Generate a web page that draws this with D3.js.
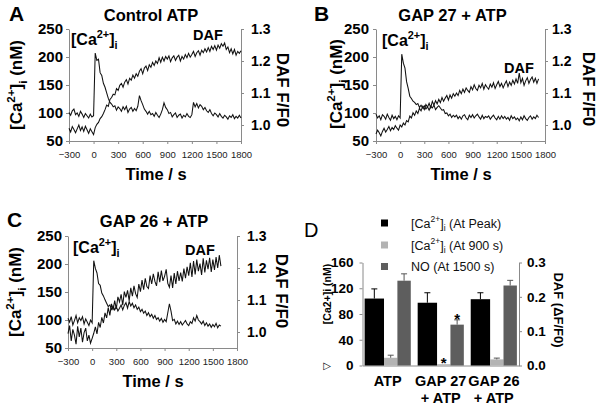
<!DOCTYPE html>
<html><head><meta charset="utf-8">
<script src="https://cdn.jsdelivr.net/npm/d3@7/dist/d3.min.js"></script>
<style>body{margin:0;background:#fff} svg{display:block}</style>
</head><body>
<svg id="c" width="600" height="406"></svg>
<script>
// ---------- DATA ----------
const startSec = -300;   // first sample time (s)
const stepSec = 20;      // sampling interval (s)
const xTicks = [-300, 0, 300, 600, 900, 1200, 1500, 1800];
const caTicks = [50, 100, 150, 200, 250];
const dafTicks = [1.0, 1.1, 1.2, 1.3];

// Panel A: Control ATP
const caA = [101,96,104,107,97,100,94,103,98,92,
  99,95,91,98,93,95,207,194,196,172,
  167,153,146,136,126,119,116,111,113,105,
  111,108,103,111,106,112,101,107,110,103,
  108,104,112,131,122,115,107,103,98,103,
  97,99,94,101,96,92,98,106,118,110,
  106,99,101,93,97,100,92,96,98,91,
  96,93,99,94,92,97,119,111,117,109,
  115,112,106,110,104,101,106,99,95,100,
  97,93,99,94,91,96,93,89,95,92,
  97,90,94,91,96,91];
const dafA = [0.990,0.978,0.995,0.986,0.976,0.988,1.000,0.983,0.994,0.980,
  0.996,0.985,0.974,0.988,0.979,0.970,0.992,1.002,1.008,1.020,
  1.026,1.036,1.048,1.062,1.058,1.080,1.086,1.096,1.094,1.114,
  1.108,1.124,1.130,1.118,1.134,1.142,1.128,1.146,1.140,1.156,
  1.146,1.160,1.152,1.168,1.176,1.160,1.178,1.184,1.170,1.188,
  1.180,1.196,1.186,1.200,1.192,1.210,1.196,1.212,1.200,1.214,
  1.206,1.216,1.198,1.210,1.216,1.202,1.212,1.218,1.200,1.214,
  1.206,1.220,1.210,1.224,1.212,1.220,1.230,1.214,1.226,1.232,
  1.218,1.234,1.226,1.238,1.228,1.242,1.230,1.246,1.236,1.248,
  1.234,1.250,1.240,1.254,1.246,1.256,1.236,1.244,1.226,1.238,
  1.222,1.236,1.218,1.230,1.224,1.232];

// Panel B: GAP 27 + ATP
const caB = [98,91,95,88,97,94,89,98,92,87,
  96,90,94,88,95,91,205,189,180,156,
  144,130,126,121,119,115,117,110,114,109,
  113,107,111,105,112,109,114,106,110,113,
  109,105,106,99,100,95,98,92,96,93,
  96,90,94,89,95,97,91,88,96,92,
  97,91,95,98,93,89,96,90,94,92,
  95,89,93,96,91,88,94,89,95,90,
  94,89,92,87,95,90,93,88,91,86,
  93,88,95,90,87,92,95,89,93,90,
  96,92];
const dafB = [0.972,0.984,0.976,0.966,0.980,0.990,0.978,0.986,0.995,0.982,
  0.992,0.986,0.998,0.990,0.984,1.000,0.994,1.006,1.000,1.014,
  1.010,1.028,1.022,1.038,1.030,1.044,1.036,1.052,1.044,1.058,
  1.048,1.064,1.056,1.068,1.054,1.074,1.062,1.076,1.066,1.080,
  1.070,1.086,1.074,1.084,1.092,1.078,1.094,1.084,1.098,1.090,
  1.100,1.092,1.108,1.098,1.112,1.102,1.116,1.108,1.102,1.120,
  1.110,1.126,1.114,1.108,1.124,1.116,1.130,1.112,1.126,1.118,
  1.112,1.128,1.118,1.132,1.114,1.126,1.136,1.120,1.130,1.116,
  1.128,1.138,1.120,1.134,1.124,1.140,1.128,1.144,1.130,1.162,
  1.132,1.146,1.124,1.138,1.148,1.130,1.142,1.150,1.134,1.146,
  1.130,1.144];

// Panel C: GAP 26 + ATP
const caC = [103,96,106,91,99,108,95,104,99,106,
  93,102,96,90,100,95,206,192,184,165,
  162,148,143,136,130,124,127,119,125,118,
  124,116,121,127,118,126,131,121,133,125,
  130,122,127,119,123,115,119,112,116,108,
  113,106,110,103,108,101,104,98,103,96,
  101,97,113,129,116,99,101,93,98,92,
  97,91,95,99,93,90,97,94,104,98,
  108,100,97,93,98,90,95,89,93,87,
  92,88,94,86,91,89];
const dafC = [0.995,1.020,0.972,1.008,0.990,0.962,1.018,0.985,1.012,0.968,
  0.998,1.012,0.972,0.990,0.965,0.980,0.996,1.016,0.994,1.030,
  1.014,1.046,1.028,1.060,1.044,1.076,1.052,1.088,1.068,1.098,
  1.072,1.110,1.094,1.118,1.084,1.126,1.108,1.130,1.098,1.138,
  1.112,1.144,1.120,1.108,1.150,1.126,1.162,1.132,1.168,1.142,
  1.136,1.176,1.150,1.182,1.158,1.144,1.188,1.156,1.192,1.160,
  1.174,1.196,1.152,1.140,1.176,1.138,1.184,1.150,1.190,1.160,
  1.186,1.158,1.198,1.168,1.204,1.176,1.216,1.172,1.222,1.180,
  1.226,1.190,1.214,1.178,1.230,1.186,1.224,1.196,1.232,1.188,
  1.226,1.194,1.234,1.200,1.240,1.206];

// Panel D: bar summary
const groups = ["ATP", "GAP 27 + ATP", "GAP 26 + ATP"];
const groupLines = [["ATP"], ["GAP 27", "+ ATP"], ["GAP 26", "+ ATP"]];
const caPeak = [104, 97.5, 103];
const caPeakErr = [15, 15.5, 10];
const ca900 = [12, 2, 9.5];
const ca900Err = [4, 0, 2];
const no1500 = [0.247, 0.119, 0.233];
const no1500Err = [0.020, 0.014, 0.015];
const sigCa900 = [false, true, false];
const sigNO = [false, true, false];
const barTicksL = [0, 40, 80, 120, 160];
const barTicksR = [0.0, 0.1, 0.2, 0.3];
const legendLabels = ["(At Peak)", "(At 900 s)", "NO (At 1500 s)"];

// ---------- DRAWING ----------
const svg = d3.select("#c");
const AR = "'Liberation Sans', Arial, sans-serif";
const AX = "#8a8a8a";

function caText(sel, fs, tail) {
  sel.append("tspan").text("[Ca");
  sel.append("tspan").attr("font-size", fs * 0.68).attr("dy", -fs * 0.42).text("2+");
  sel.append("tspan").attr("dy", fs * 0.42).text("]");
  sel.append("tspan").attr("font-size", fs * 0.68).attr("dy", fs * 0.28).text("i");
  if (tail) sel.append("tspan").attr("dy", -fs * 0.28).text(tail);
}

function styleAxis(g, size, weight) {
  g.select(".domain").attr("stroke", AX);
  g.selectAll(".tick line").attr("stroke", AX);
  g.selectAll(".tick text").attr("fill", "#000")
    .style("font-family", AR).style("font-size", size + "px").style("font-weight", weight);
}

function tracePanel(c) {
  const g = svg.append("g");
  const x = d3.scaleLinear().domain([-300, 1800]).range([c.x0, c.x1]);
  const yL = d3.scaleLinear().domain([50, 250]).range([c.yB, c.yT]);
  const yR = d3.scaleLinear().domain([0.95, 1.3]).range([c.yB, c.yT]);

  const gx = g.append("g").attr("transform", `translate(0,${c.yB})`)
    .call(d3.axisBottom(x).tickValues(xTicks).tickFormat(d3.format("d"))
      .tickSizeInner(3).tickSizeOuter(0).tickPadding(7));
  styleAxis(gx, 9.5, "normal");
  gx.selectAll(".tick text").attr("fill", "#222");
  const gl = g.append("g").attr("transform", `translate(${c.x0},0)`)
    .call(d3.axisLeft(yL).tickValues(caTicks).tickSizeInner(3).tickSizeOuter(0).tickPadding(c.lp));
  styleAxis(gl, 15, "bold");
  const gr = g.append("g").attr("transform", `translate(${c.x1},0)`)
    .call(d3.axisRight(yR).tickValues(dafTicks).tickFormat(d3.format(".1f")).tickSizeInner(3).tickSizeOuter(0).tickPadding(c.rp));
  styleAxis(gr, 14, "bold");

  const t = (i) => startSec + i * stepSec;
  const lineL = d3.line().x((d, i) => x(t(i))).y(d => yL(d));
  const lineR = d3.line().x((d, i) => x(t(i))).y(d => yR(d));
  g.append("path").attr("d", lineR(c.daf)).attr("fill", "none").attr("stroke", "#111").attr("stroke-width", 1.05);
  g.append("path").attr("d", lineL(c.ca)).attr("fill", "none").attr("stroke", "#111").attr("stroke-width", 1.05);

  const txt = (xx, yy, s, fs, w, anchor) => g.append("text").attr("x", xx).attr("y", yy)
    .attr("font-family", AR).attr("font-size", fs).attr("font-weight", w || "bold")
    .attr("text-anchor", anchor || "start").text(s);

  txt(c.letter[0], c.letter[1], c.letterText, 21, "bold");
  txt(c.title[0], c.title[1], c.titleText, 16.5, "bold", "middle");
  txt(c.xl[0], c.xl[1], "Time / s", 16.5, "bold", "middle");
  txt(c.dafLab[0], c.dafLab[1], "DAF", 14.5, "bold");
  const cl = txt(c.caLab[0], c.caLab[1], "", 16, "bold");
  caText(cl, 16);

  const lt = g.append("text").attr("transform", `translate(${c.ltx},${c.lty}) rotate(-90)`)
    .attr("font-family", AR).attr("font-size", 17).attr("font-weight", "bold").attr("text-anchor", "middle");
  caText(lt, 17, " (nM)");
  g.append("text").attr("transform", `translate(${c.rtx},${c.rty}) rotate(90)`)
    .attr("font-family", AR).attr("font-size", 17).attr("font-weight", "bold").attr("text-anchor", "middle")
    .text("DAF F/F0");
}

tracePanel({x0: 69, x1: 241, yB: 141, yT: 29, lp: 3, rp: 7, ca: caA, daf: dafA,
  letter: [9, 21], letterText: "A", title: [151, 21], titleText: "Control ATP",
  xl: [156, 180], caLab: [71, 45], dafLab: [193, 39.5], ltx: 22, lty: 85, rtx: 277, rty: 90});
tracePanel({x0: 376, x1: 545, yB: 141, yT: 29, lp: 4, rp: 4, ca: caB, daf: dafB,
  letter: [314, 21], letterText: "B", title: [452.5, 21], titleText: "GAP 27 + ATP",
  xl: [461, 180], caLab: [382, 46], dafLab: [504, 73], ltx: 342, lty: 84, rtx: 583, rty: 89});
tracePanel({x0: 68, x1: 237, yB: 348, yT: 236, lp: 3, rp: 7, ca: caC, daf: dafC,
  letter: [7, 227], letterText: "C", title: [154, 227], titleText: "GAP 26 + ATP",
  xl: [153, 387], caLab: [73, 253], dafLab: [185, 255], ltx: 21, lty: 292, rtx: 276, rty: 291});

// Panel D
(function () {
  const g = svg.append("g");
  const x0 = 362.5, x1 = 519, yB = 365.5, yT = 262.5;
  const xb = d3.scaleBand().domain(groups).range([x0, x1]).paddingInner(0.13).paddingOuter(0.04);
  const yL = d3.scaleLinear().domain([0, 160]).range([yB, yT]);
  const yR = d3.scaleLinear().domain([0, 0.3]).range([yB, yT]);
  const colors = ["#000000", "#b3b3b3", "#5e5e5e"];
  const fr = [0.42, 0.29, 0.29];
  const bw = xb.bandwidth();

  const gl = g.append("g").attr("transform", `translate(${x0},0)`)
    .call(d3.axisLeft(yL).tickValues(barTicksL).tickSizeInner(3).tickSizeOuter(0).tickPadding(6));
  styleAxis(gl, 13.5, "bold");
  const gr = g.append("g").attr("transform", `translate(${x1},0)`)
    .call(d3.axisRight(yR).tickValues(barTicksR).tickFormat(d3.format(".1f")).tickSizeInner(3).tickSizeOuter(0).tickPadding(5));
  styleAxis(gr, 13.5, "bold");
  const gx = g.append("g").attr("transform", `translate(0,${yB})`)
    .call(d3.axisBottom(xb).tickSize(0).tickFormat(""));
  gx.select(".domain").attr("stroke", AX);

  const series = [
    {v: caPeak, e: caPeakErr, s: yL, sig: null},
    {v: ca900, e: ca900Err, s: yL, sig: sigCa900},
    {v: no1500, e: no1500Err, s: yR, sig: sigNO}
  ];
  groups.forEach((gname, gi) => {
    let off = xb(gname);
    series.forEach((se, si) => {
      const w = bw * fr[si];
      const top = se.s(se.v[gi]);
      g.append("rect").attr("x", off).attr("y", top).attr("width", w).attr("height", yB - top).attr("fill", colors[si]);
      const cx = off + w / 2;
      if (se.e[gi] > 0) {
        const et = se.s(se.v[gi] + se.e[gi]);
        const ec = si === 0 ? "#000" : "#555";
        g.append("line").attr("x1", cx).attr("x2", cx).attr("y1", top).attr("y2", et).attr("stroke", ec);
        g.append("line").attr("x1", cx - 3).attr("x2", cx + 3).attr("y1", et).attr("y2", et).attr("stroke", ec);
      }
      if (se.sig && se.sig[gi]) {
        const et = se.s(se.v[gi] + se.e[gi]);
        g.append("text").attr("x", cx).attr("y", et - 4 + 8).attr("text-anchor", "middle")
          .attr("font-family", AR).attr("font-size", 15).attr("font-weight", "bold").text("*");
      }
      off += w;
    });
    groupLines[gi].forEach((ln, li) => {
      g.append("text").attr("x", xb(gname) + bw / 2).attr("y", 386 + li * 17).attr("text-anchor", "middle")
        .attr("font-family", AR).attr("font-size", 14.5).attr("font-weight", "bold").text(ln);
    });
  });

  // legend
  legendLabels.forEach((lab, i) => {
    const cy = [223, 245, 266.5][i];
    g.append("rect").attr("x", 381).attr("y", cy - 3.5).attr("width", 7).attr("height", 7).attr("fill", colors[i]);
    const t = g.append("text").attr("x", 411).attr("y", cy + 4.5)
      .attr("font-family", AR).attr("font-size", 12.5).attr("fill", "#111");
    if (i < 2) caText(t, 12.5, " " + lab); else t.text(lab);
  });

  g.append("text").attr("x", 304).attr("y", 237).attr("font-family", AR).attr("font-size", 20).text("D");
  g.append("text").attr("transform", `translate(331,294) rotate(-90)`)
    .attr("font-family", AR).attr("font-size", 10.5).attr("font-weight", "bold").attr("text-anchor", "middle")
    .text("[Ca2+]i (nM)");
  g.append("text").attr("x", 327).attr("y", 369).attr("text-anchor", "middle")
    .attr("font-family", "DejaVu Sans").attr("font-size", 10).text("\u25B7");
  g.append("text").attr("transform", `translate(554,310) rotate(90)`)
    .attr("font-family", AR).attr("font-size", 13).attr("font-weight", "bold").attr("text-anchor", "middle")
    .text("DAF (\u0394F/F0)");
})();
</script>
</body></html>
